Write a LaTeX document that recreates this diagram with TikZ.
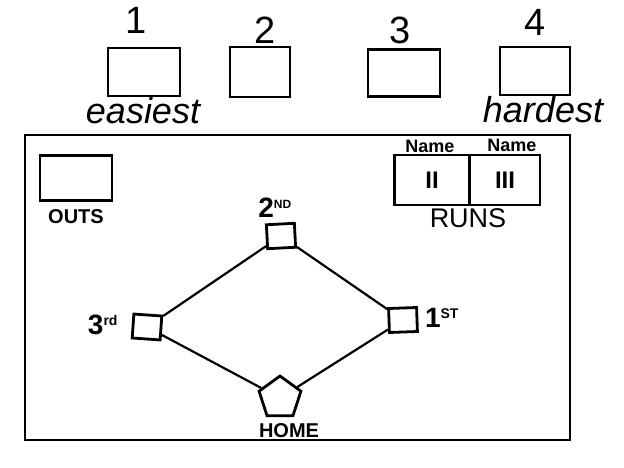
\documentclass[tikz,border=0pt]{standalone}
\usepackage{fontspec}
\setmainfont{Liberation Sans}
\usetikzlibrary{shapes.geometric}
\tikzset{
  box/.style={draw, line width=2.8pt, minimum width=#1, inner sep=0pt},
  base/.style={draw, line width=2.8pt, minimum width=28pt, minimum height=24pt, inner sep=0pt},
  hand/.style={font=\fontsize{38}{40}\selectfont},
  small/.style={font=\fontsize{20}{22}\selectfont\bfseries}
}
\begin{document}
\begin{tikzpicture}[x=1pt,y=-1pt]
  \useasboundingbox (0,0) rectangle (624,468);
  % difficulty boxes
  \node[box=72pt, minimum height=48pt] (d1) at (144,72) {};
  \node[box=60pt, minimum height=50pt] (d2) at (260,72) {};
  \node[box=72pt, minimum height=47pt] (d3) at (404,73) {};
  \node[box=70pt, minimum height=48pt] (d4) at (535,71) {};
  \node[hand] (n1) at (136,20) {1};
  \node[hand] (n2) at (265,30) {2};
  \node[hand] (n3) at (400,30) {3};
  \node[hand] (n4) at (535,22) {4};
  \node[hand, font=\fontsize{36}{38}\selectfont\itshape] (easy) at (143,111) {easiest};
  \node[hand, font=\fontsize{36}{38}\selectfont\itshape] (hard) at (543,110) {hardest};
  % field
  \draw[line width=2.8pt] (25,135) rectangle (570,440);
  % outs and runs
  \node[box=72pt, minimum height=45pt] (outs) at (76,178) {};
  \node[small] (outslbl) at (76,217) {OUTS};
  \node[box=75pt, minimum height=50pt, font=\fontsize{24}{26}\selectfont\bfseries] (run1) at (432,180) {II};
  \node[box=70pt, minimum height=50pt, font=\fontsize{24}{26}\selectfont\bfseries] (run2) at (505,180) {III};
  \node[small, font=\fontsize{18}{20}\selectfont\bfseries] (name1) at (430,146) {Name};
  \node[small, font=\fontsize{18}{20}\selectfont\bfseries] (name2) at (512,145) {Name};
  \node[hand, font=\fontsize{27}{29}\selectfont] (runs) at (468,218) {RUNS};
  % bases
  \node[base, rotate=3] (b2) at (281,236) {};
  \node[base, rotate=-4] (b3) at (147,327) {};
  \node[base, rotate=2] (b1) at (403,320) {};
  \node[draw, line width=2.8pt, regular polygon, regular polygon sides=5, minimum size=44pt, inner sep=0pt] (home) at (280,398) {};
  \node[hand, font=\fontsize{28}{30}\selectfont\bfseries] (l2) at (275,208) {2\textsuperscript{\fontsize{12}{12}\selectfont ND}};
  \node[hand, font=\fontsize{28}{30}\selectfont\bfseries] (l3) at (103,325) {3\textsuperscript{\fontsize{14}{14}\selectfont rd}};
  \node[hand, font=\fontsize{28}{30}\selectfont\bfseries] (l1) at (442,318) {1\textsuperscript{\fontsize{14}{14}\selectfont ST}};
  \node[small] (homelbl) at (289,431) {HOME};
  % base paths
  \draw[line width=2.2pt] (b3) -- (b2) -- (b1) -- (home) -- (b3);
\end{tikzpicture}
\end{document}
